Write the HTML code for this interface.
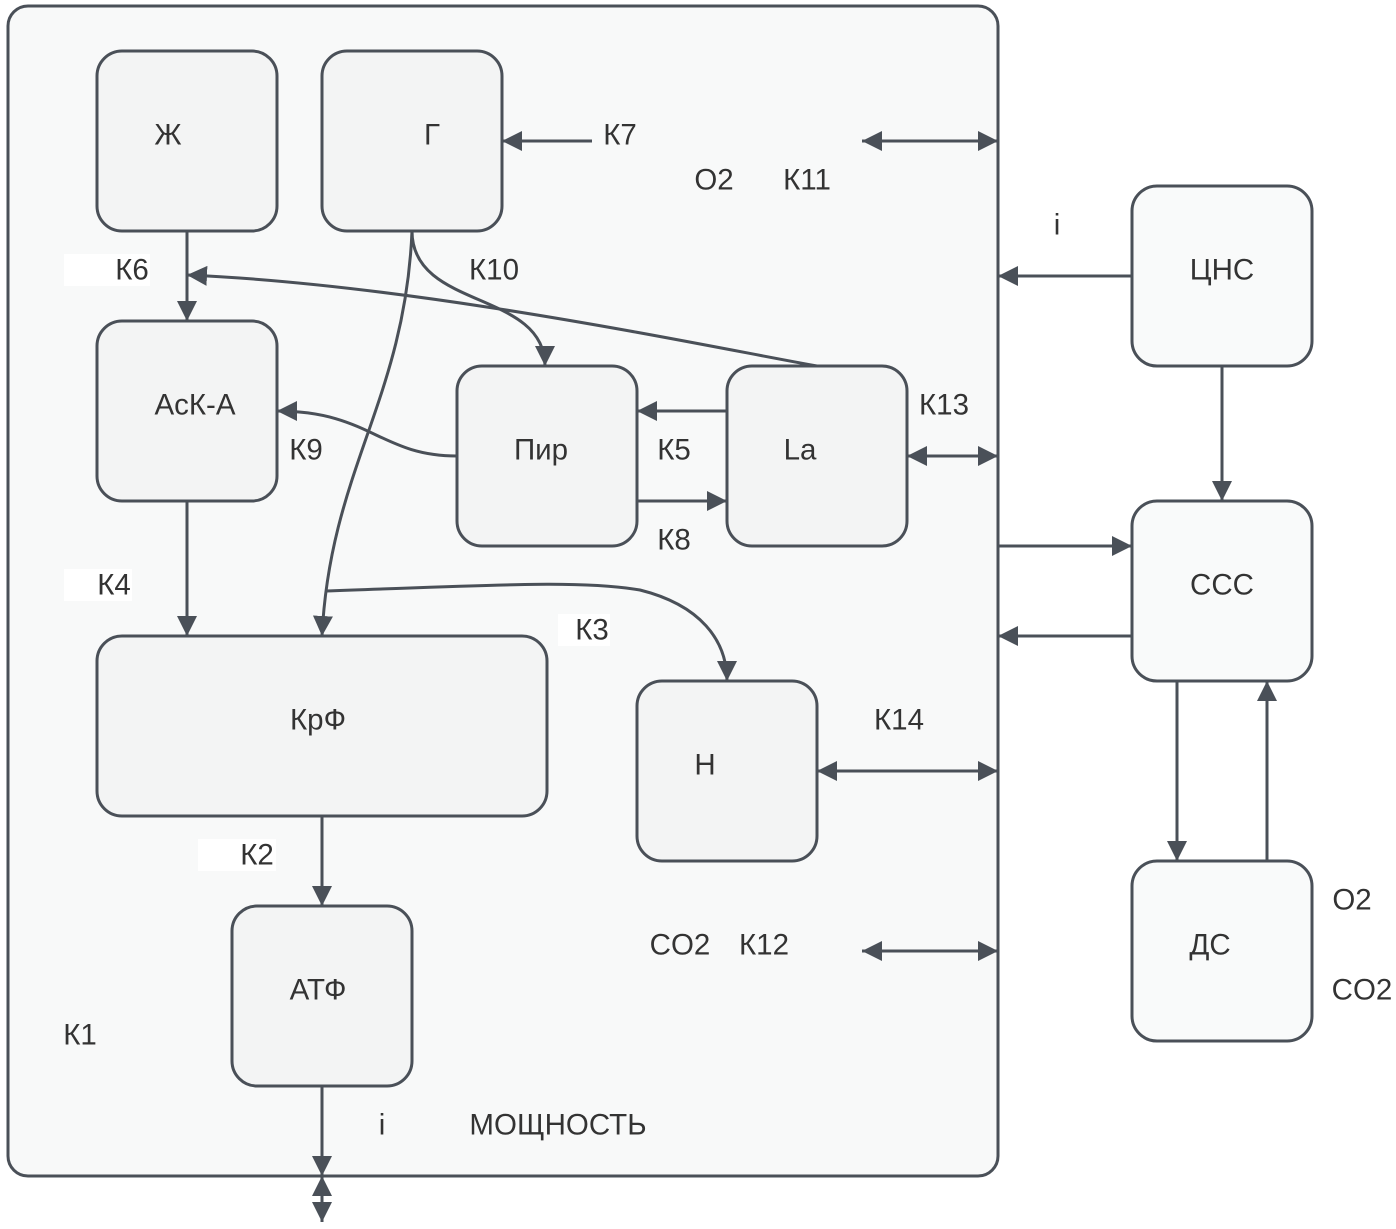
<!DOCTYPE html>
<html><head><meta charset="utf-8"><style>
html,body{margin:0;padding:0;background:#fff;}
svg{display:block;}
text{font-family:"Liberation Sans",sans-serif;font-size:29.5px;fill:#333;}
</style></head><body>
<svg width="1396" height="1229" viewBox="0 0 1396 1229" xmlns="http://www.w3.org/2000/svg">
<defs>
<marker id="b" viewBox="0 0 20 20" refX="20" refY="10" markerWidth="20" markerHeight="20" markerUnits="userSpaceOnUse" orient="auto-start-reverse">
<path d="M0,0 L20,10 L0,20 z" fill="#4a5058"/></marker>
</defs>
<rect x="8" y="6" width="990" height="1170" rx="20" fill="#f8f9f9" stroke="#4a5058" stroke-width="3"/>
<g fill="#f3f4f4" stroke="#4a5058" stroke-width="3">
<rect x="97" y="51" width="180" height="180" rx="25"/>
<rect x="322" y="51" width="180" height="180" rx="25"/>
<rect x="97" y="321" width="180" height="180" rx="25"/>
<rect x="457" y="366" width="180" height="180" rx="25"/>
<rect x="727" y="366" width="180" height="180" rx="25"/>
<rect x="97" y="636" width="450" height="180" rx="25"/>
<rect x="637" y="681" width="180" height="180" rx="25"/>
<rect x="232" y="906" width="180" height="180" rx="25"/>
</g>
<g fill="#f9fafa" stroke="#4a5058" stroke-width="3">
<rect x="1132" y="186" width="180" height="180" rx="25"/>
<rect x="1132" y="501" width="180" height="180" rx="25"/>
<rect x="1132" y="861" width="180" height="180" rx="25"/>
</g>
<g fill="none" stroke="#4a5058" stroke-width="3" marker-end="url(#b)">
<path d="M187,231 L187,321"/>
<path d="M817,366 C700,345 420,285 187,275"/>
<path d="M412,231 C412,310 545,290 545,366"/>
<path d="M412,231 C405,400 330,470 322,636"/>
<path d="M325,591 C500,585 580,580 640,590 C700,605 727,640 727,681"/>
<path d="M457,456 C380,456 370,411 277,411"/>
<path d="M727,411 L637,411"/>
<path d="M637,501 L727,501"/>
<path d="M187,501 L187,636"/>
<path d="M322,816 L322,906"/>
<path d="M322,1086 L322,1176"/>
<path d="M322,1176 L322,1222" marker-start="url(#b)"/>
<path d="M592,141 L502,141"/>
<path d="M862,141 L998,141" marker-start="url(#b)"/>
<path d="M1132,276 L998,276"/>
<path d="M907,456 L998,456" marker-start="url(#b)"/>
<path d="M998,546 L1132,546"/>
<path d="M1132,636 L998,636"/>
<path d="M817,771 L998,771" marker-start="url(#b)"/>
<path d="M862,951 L998,951" marker-start="url(#b)"/>
<path d="M1222,366 L1222,501"/>
<path d="M1177,681 L1177,861"/>
<path d="M1267,861 L1267,681"/>
</g>
<g fill="#fff">
<rect x="64" y="254" width="86" height="32"/>
<rect x="64" y="569" width="68" height="32"/>
<rect x="198" y="839" width="78" height="32"/>
<rect x="558" y="614" width="52" height="32"/>
</g>
<g text-anchor="middle" dominant-baseline="central">
<text x="168" y="135">Ж</text>
<text x="432" y="135">Г</text>
<text x="620" y="135">К7</text>
<text x="714" y="180">O2</text>
<text x="807" y="180">К11</text>
<text x="1057" y="225">i</text>
<text x="1222" y="270">ЦНС</text>
<text x="132" y="270">К6</text>
<text x="494" y="270">К10</text>
<text x="195" y="405">АсК-А</text>
<text x="306" y="450">К9</text>
<text x="541" y="450">Пир</text>
<text x="674" y="450">К5</text>
<text x="800" y="450">La</text>
<text x="944" y="405">К13</text>
<text x="674" y="540">К8</text>
<text x="114" y="585">К4</text>
<text x="1222" y="585">ССС</text>
<text x="592" y="630">К3</text>
<text x="318" y="720">КрФ</text>
<text x="899" y="720">К14</text>
<text x="705" y="765">Н</text>
<text x="257" y="855">К2</text>
<text x="1352" y="900">O2</text>
<text x="680" y="945">CO2</text>
<text x="764" y="945">К12</text>
<text x="1210" y="945">ДС</text>
<text x="1362" y="990">CO2</text>
<text x="318" y="990">АТФ</text>
<text x="80" y="1035">К1</text>
<text x="382" y="1125">i</text>
<text x="558" y="1125">МОЩНОСТЬ</text>
</g>
</svg>
</body></html>
